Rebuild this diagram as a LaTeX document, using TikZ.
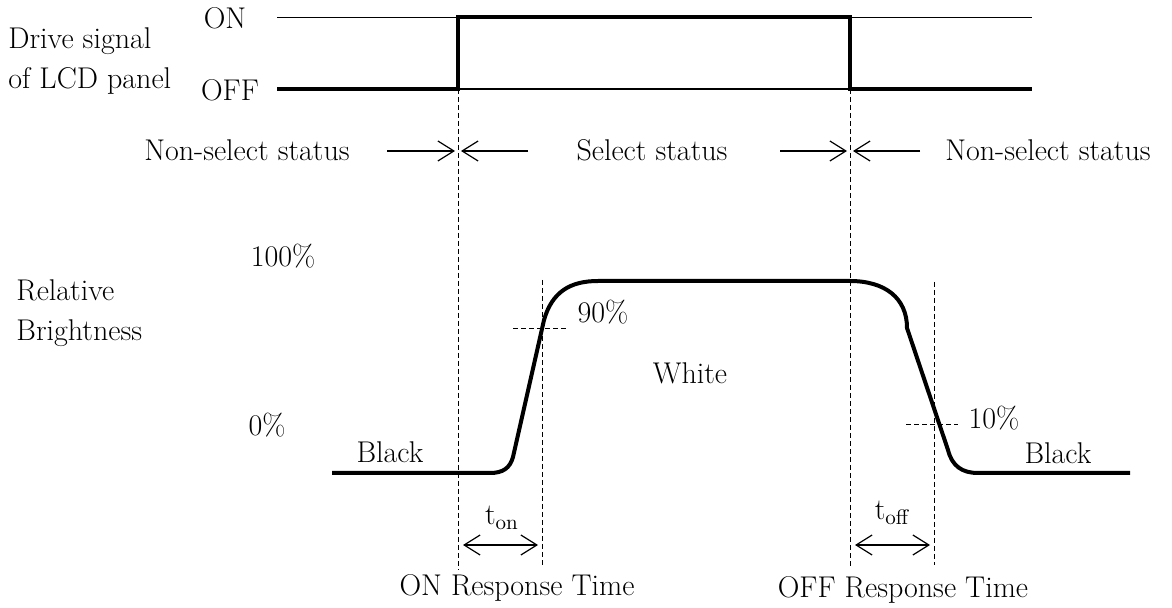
\documentclass[tikz,border=0pt]{standalone}
\usetikzlibrary{arrows.meta}
\tikzset{
  lbl/.style={font=\fontsize{15}{20}\selectfont, inner sep=0pt},
  sig/.style={line width=2pt},
  thinline/.style={line width=0.6pt},
  guide/.style={line width=0.5pt, dash pattern=on 2.5pt off 1.5pt},
  barb/.style={line width=0.6pt, -{Straight Barb[length=8pt,width=10pt]}},
  dblbarb/.style={line width=0.6pt, {Straight Barb[length=8pt,width=10pt]}-{Straight Barb[length=8pt,width=10pt]}}
}
\begin{document}
\begin{tikzpicture}[x=0.5pt,y=-0.5pt]
\useasboundingbox (0,0) rectangle (1172,608);
\node[lbl, anchor=west, align=left] (drive) at (8,61){Drive signal\\of LCD panel};
\node[lbl] (on) at (225,18){ON};
\node[lbl] (off) at (230,90){OFF};
\coordinate (son0) at (277,17.5);
\coordinate (son1) at (458,17.5);
\coordinate (son2) at (850,17.5);
\coordinate (son3) at (1032,17.5);
\coordinate (soff0) at (277,89);
\coordinate (soff1) at (458,89);
\coordinate (soff2) at (850,89);
\coordinate (soff3) at (1032,89);
\draw[thinline](son0) -- (son1);
\draw[thinline](soff1) -- (soff2);
\draw[thinline](son2) -- (son3);
\draw[sig](soff0) -- (soff1) -- (son1) -- (son2) -- (soff2) -- (soff3);
\draw[guide](soff1) -- (458,570);
\draw[guide](soff2) -- (850,569);
\draw[guide](542,280) -- (542,565);
\draw[guide](934,282) -- (934,565);
\node[lbl] (nsel1) at (247,150){Non-select status};
\node[lbl] (sel) at (652,150){Select status};
\node[lbl] (nsel2) at (1048,150){Non-select status};
\coordinate (a0) at (387,151);
\coordinate (a1) at (455,151);
\coordinate (a2) at (528,151);
\coordinate (a3) at (461,151);
\coordinate (a4) at (780,151);
\coordinate (a5) at (847,151);
\coordinate (a6) at (920,151);
\coordinate (a7) at (853,151);
\draw[barb](a0) -- (a1);
\draw[barb](a2) -- (a3);
\draw[barb](a4) -- (a5);
\draw[barb](a6) -- (a7);
\node[lbl, anchor=west, align=left] (rel) at (16,313){Relative\\Brightness};
\node[lbl] (full) at (283,256){100\%};
\node[lbl] (zero) at (267,425){0\%};
\node[lbl] (p90) at (603,312){90\%};
\node[lbl] (p10) at (994,418){10\%};
\node[lbl] (white) at (690,373){White};
\node[lbl] (black1) at (390,452){Black};
\node[lbl] (black2) at (1058,453){Black};
\draw[guide](513,329) -- (566,329);
\draw[guide](906,425) -- (958,425);
\draw[sig, line join=round](332,473) -- (490,473) .. controls (503,473) and (510,468) .. (513,457)
  -- (544,320) .. controls (552,292) and (570,281) .. (598,281)
  -- (850,281) .. controls (885,281) and (907,298) .. (907,328)
  -- (948,450) .. controls (952,466) and (962,473) .. (978,473) -- (1130,473);
\node[lbl] (ton) at (502,518){t\textsubscript{on}};
\node[lbl] (toff) at (892,513){t\textsubscript{off}};
\coordinate (t0) at (463,545);
\coordinate (t1) at (538,545);
\coordinate (t2) at (855,545);
\coordinate (t3) at (930,545);
\draw[dblbarb](t0) -- (t1);
\draw[dblbarb](t2) -- (t3);
\node[lbl] (onresp) at (517,588){ON Response Time};
\node[lbl] (offresp) at (903,590){OFF Response Time};
\end{tikzpicture}
\end{document}
